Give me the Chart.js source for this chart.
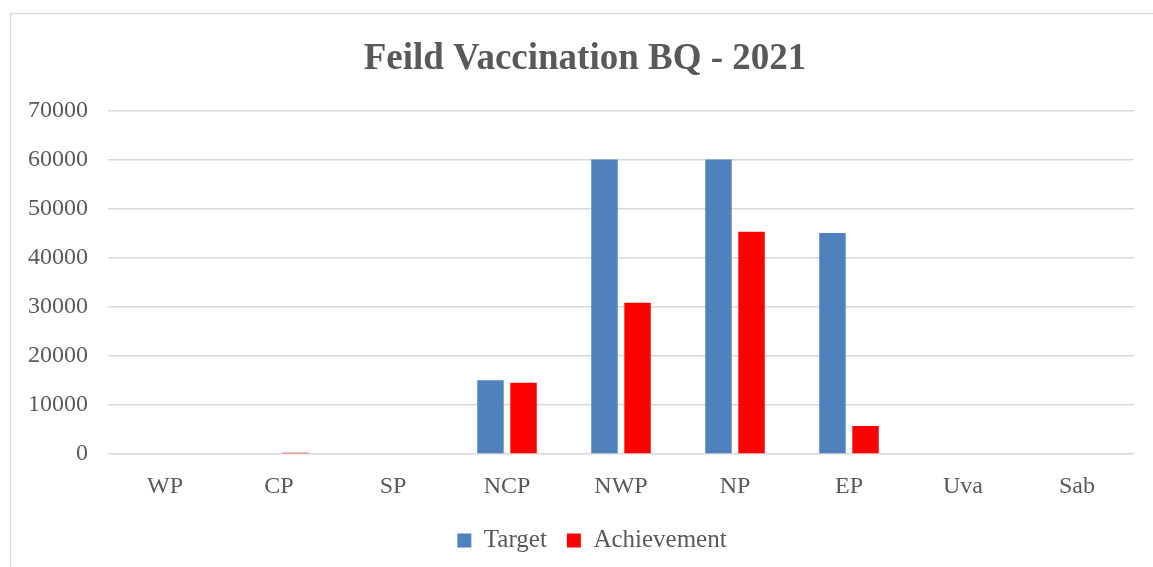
<!DOCTYPE html>
<html>
<head>
<meta charset="utf-8">
<script src="https://cdn.jsdelivr.net/npm/chart.js@4"></script>
<style>
  html, body { margin: 0; padding: 0; background: #fff; }
  #wrap { position: relative; width: 1153px; height: 567px; }
</style>
</head>
<body>
<div id="wrap"><canvas id="myChart"></canvas></div>
<script>
let provinces = ["WP", "CP", "SP", "NCP", "NWP", "NP", "EP", "Uva", "Sab"];
let target = [0, 0, 0, 15000, 60000, 60000, 45000, 0, 0];
let achievement = [0, 250, 0, 14500, 30800, 45300, 5700, 0, 0];
let yTicks = { min: 0, max: 70000, step: 10000 };

let textColor = "#595959";
let gridColor = "#d9d9d9";

// light frame like the office chart area border
let frame = {
  id: "frame",
  beforeDraw(chart) {
    let ctx = chart.ctx;
    ctx.save();
    ctx.strokeStyle = "#d9d9d9";
    ctx.lineWidth = 1.5;
    ctx.strokeRect(10.5, 13.5, 1160, 600);
    ctx.restore();
  }
};

// title and legend sit a bit right of the canvas centre in the original
let nudge = {
  id: "nudge",
  afterLayout(chart) {
    let shift = (box, dx) => {
      if (!box) return;
      box.left += dx;
      box.right += dx;
    };
    shift(chart.titleBlock, 18);
    shift(chart.legend, 25);
  }
};

new Chart(document.getElementById("myChart"), {
  type: "bar",
  data: {
    labels: provinces,
    datasets: [{
      label: "Target",
      data: target,
      backgroundColor: "#4f81bd",
      categoryPercentage: 0.58,
      barPercentage: 0.8
    }, {
      label: "Achievement",
      data: achievement,
      backgroundColor: "#ff0000",
      categoryPercentage: 0.58,
      barPercentage: 0.8
    }]
  },
  options: {
    responsive: true,
    maintainAspectRatio: false,
    animation: false,
    layout: { padding: { left: 0, right: 19, top: 0, bottom: 4 } },
    plugins: {
      title: {
        display: true,
        text: "Feild Vaccination BQ - 2021",
        color: textColor,
        font: { family: "Liberation Serif", size: 37, weight: "bold" },
        padding: { top: 37, bottom: 29 }
      },
      legend: {
        position: "bottom",
        labels: {
          color: textColor,
          font: { family: "Liberation Serif", size: 25 },
          boxWidth: 14,
          boxHeight: 14,
          padding: 20
        }
      },
      tooltip: { enabled: false }
    },
    scales: {
      x: {
        grid: { display: false },
        border: { display: false },
        afterFit(scale) { scale.height = 54; },
        ticks: {
          color: textColor,
          font: { family: "Liberation Serif", size: 24 },
          padding: 10
        }
      },
      y: {
        min: yTicks.min,
        max: yTicks.max,
        border: { display: false },
        grid: { color: gridColor, lineWidth: 1.5, drawTicks: false },
        afterFit(scale) { scale.width = 108; },
        ticks: {
          stepSize: yTicks.step,
          color: textColor,
          font: { family: "Liberation Serif", size: 24 },
          padding: 20,
          callback: v => String(v)
        }
      }
    }
  },
  plugins: [frame, nudge]
});
</script>
</body>
</html>
